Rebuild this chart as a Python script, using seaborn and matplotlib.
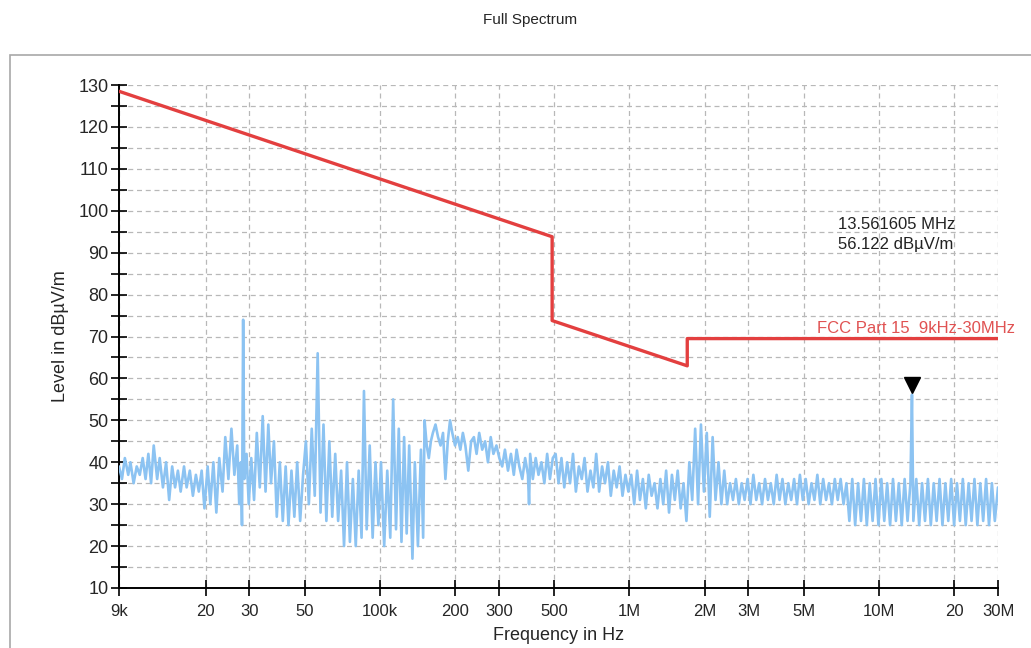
import matplotlib
matplotlib.use("Agg")
import matplotlib.pyplot as plt
import matplotlib.patches as mpatches
from matplotlib.ticker import FixedLocator, NullFormatter, MultipleLocator
import numpy as np
import pandas as pd
import seaborn as sns

# ---------------- data ----------------
# measured spectrum (frequency in kHz, level in dBuV/m), read from the picture
freq_khz = [
    9.0, 9.25, 9.5, 9.8, 10.0, 10.3, 10.6, 10.9, 11.2, 11.5, 11.8, 12.1, 12.4, 12.8, 13.1, 13.5,
    13.9, 14.3, 14.7, 15.1, 15.5, 15.9, 16.4, 16.8, 17.3, 17.8, 18.3, 18.8, 19.3, 19.8,
    20.4, 20.9, 21.5, 22.1, 22.7, 23.4, 24.0, 24.7, 25.4, 26.1, 26.8, 27.3, 27.7, 28.0, 28.3,
    28.6, 29.2, 29.8,
    30.5, 31.3, 32.1, 33.0, 33.9, 34.8, 35.7, 36.6, 37.6, 38.6, 39.7, 40.8, 41.9, 43.0, 44.2,
    45.4, 46.6, 47.9, 49.2,
    50.5, 51.9, 53.3, 54.8, 56.3, 57.8, 59.4, 61.0, 62.7, 64.4, 66.2, 68.0, 69.9, 71.8, 73.8,
    75.8, 77.9, 80.0, 82.2, 84.4, 86.3, 88.5, 91.0, 93.5, 96.0, 98.6,
    101, 104, 107, 110, 113, 116, 119, 122, 125, 128, 131, 135, 138, 142, 146, 149,
    151, 154, 157, 160, 163, 167, 171, 175, 179, 183, 187, 191, 195, 200, 205, 210, 215, 220,
    226, 232, 238, 244, 250, 257, 264, 271, 278, 285, 293, 301, 309, 317, 326, 335, 344, 353,
    362, 372, 382, 392, 396, 400, 410, 421, 432, 444, 456, 468, 480, 493,
    506, 520, 534, 548, 563, 578, 594, 610, 627, 644, 661, 679, 698, 717, 736, 756, 777, 798,
    820, 842, 865, 889, 913, 938, 964, 990,
    1017, 1045, 1073, 1102, 1132, 1163, 1195, 1227, 1261, 1295, 1330, 1366, 1403, 1441, 1480,
    1520, 1561, 1604, 1647, 1692, 1738, 1785, 1834, 1884, 1935, 1988,
    2042, 2098, 2155, 2213, 2274, 2336, 2399, 2464, 2531, 2600, 2671, 2744, 2818, 2895, 2974,
    3055, 3138, 3223, 3311, 3401, 3494, 3589, 3686, 3787, 3890, 3996, 4104, 4216, 4331, 4449,
    4570, 4694, 4822, 4953,
    5088, 5226, 5368, 5514, 5664, 5818, 5977, 6139, 6306, 6478, 6654, 6835, 7021, 7212, 7408,
    7610, 7817, 8029, 8248, 8472, 8703, 8939, 9183, 9432, 9689, 9953,
    10224, 10502, 10788, 11082, 11383, 11693, 12011, 12338, 12674, 13019, 13373, 13561.605,
    13737, 14111, 14495, 14889, 15294, 15710, 16138, 16577, 17028, 17492, 17968, 18457, 18959,
    19475, 20005, 20549, 21108, 21683, 22273, 22879, 23502, 24141, 24798, 25473, 26166, 26878,
    27610, 28361, 29133, 30000,
]
level_dbuv = [
    39, 36, 41, 37, 40, 35, 39, 37, 41, 36, 42, 35, 44, 36, 41, 34,
    40, 31, 39, 34, 38, 33, 39, 34, 38, 32, 37, 33, 38, 29,
    39, 30, 40, 28, 41, 33, 46, 36, 48, 37, 44, 30, 40, 25, 74,
    36, 42, 30,
    41, 31, 47, 34, 51, 33, 49, 35, 45, 27, 40, 26, 39, 25, 38,
    27, 40, 26, 37,
    45, 30, 48, 32, 66, 28, 49, 26, 45, 27, 42, 26, 38, 20, 40,
    21, 36, 20, 38, 22, 57, 24, 44, 22, 40, 25,
    40, 20, 38, 22, 55, 24, 48, 21, 46, 23, 44, 17, 40, 20, 43, 22,
    50, 44, 41, 45, 47, 49, 46, 44, 47, 36, 45, 50, 47, 44, 46, 43, 47, 44,
    38, 45, 46, 42, 47, 43, 45, 40, 46, 42, 44, 41, 39, 43, 38, 42, 37, 43,
    39, 36, 41, 37, 30, 42, 36, 41, 37, 40, 35, 42, 36, 41,
    42, 35, 41, 34, 40, 35, 42, 33, 39, 36, 41, 33, 38, 34, 42, 33, 39, 35,
    40, 32, 38, 34, 39, 32, 37, 33,
    37, 30, 38, 31, 36, 29, 37, 32, 35, 29, 36, 30, 38, 28, 37,
    31, 38, 29, 35, 26, 40, 31, 48, 30, 49, 33,
    47, 27, 46, 31, 40, 30, 38, 30, 35, 31, 36, 30, 35, 31, 36,
    30, 37, 31, 35, 30, 36, 31, 35, 30, 37, 31, 36, 30, 35, 31,
    36, 30, 37, 31,
    36, 30, 35, 31, 37, 30, 36, 31, 35, 30, 36, 31, 36, 30, 35,
    26, 36, 25, 35, 26, 36, 25, 35, 26, 36, 25,
    36, 26, 35, 25, 36, 26, 35, 25, 36, 26, 35, 56.122,
    26, 36, 25, 35, 26, 36, 25, 35, 26, 36, 25, 35, 26,
    36, 25, 35, 26, 36, 25, 35, 26, 36, 25, 35, 26, 36,
    25, 35, 26, 34,
]

# FCC Part 15 limit line vertices
limit_freq_khz = [9, 490, 490, 1705, 1705, 30000]
limit_dbuv = [128.5, 93.8, 73.8, 63.0, 69.5, 69.5]

# marker
marker_freq_mhz = 13.561605
marker_level = 56.122

x_ticks_hz = [9e3, 20e3, 30e3, 50e3, 100e3, 200e3, 300e3, 500e3, 1e6, 2e6, 3e6, 5e6, 10e6, 20e6, 30e6]
x_tick_labels = ["9k", "20", "30", "50", "100k", "200", "300", "500", "1M", "2M", "3M", "5M", "10M", "20", "30M"]

# ---------------- plot ----------------
sns.set_theme(style="white")
plt.rcParams["font.family"] = ["Liberation Sans", "DejaVu Sans"]

fig = plt.figure(figsize=(10.31, 6.48), dpi=100)
ax = fig.add_axes([119 / 1031, 1 - 588 / 648, 879 / 1031, (588 - 85) / 648])

spec = pd.DataFrame({"f": np.array(freq_khz) * 1e3, "lvl": level_dbuv})
lim = pd.DataFrame({"f": np.array(limit_freq_khz) * 1e3, "lvl": limit_dbuv})

sns.lineplot(data=spec, x="f", y="lvl", ax=ax, estimator=None, sort=False,
             color="#8cc3f2", lw=1.9, legend=False, zorder=3)
sns.lineplot(data=lim, x="f", y="lvl", ax=ax, estimator=None, sort=False,
             color="#e33f3f", lw=2.4, legend=False, zorder=4)

ax.set_xscale("log")
ax.set_xlim(9e3, 30e6)
ax.set_ylim(10, 130)

ax.xaxis.set_major_locator(FixedLocator(x_ticks_hz))
ax.set_xticklabels(x_tick_labels)
ax.xaxis.set_minor_formatter(NullFormatter())
ax.xaxis.set_minor_locator(FixedLocator([]))
ax.yaxis.set_major_locator(MultipleLocator(10))
ax.yaxis.set_minor_locator(MultipleLocator(5))

ax.tick_params(axis="both", which="both", direction="inout", length=11, width=1.2,
               color="black", labelsize=13, pad=2, left=True, bottom=True)
ax.tick_params(axis="x", labelsize=12, pad=6)

for s in ["top", "right"]:
    ax.spines[s].set_visible(False)
for s in ["left", "bottom"]:
    ax.spines[s].set_color("black")
    ax.spines[s].set_linewidth(1.4)

ax.grid(True, which="major", axis="x", color="#b8b8b8", linestyle=(0, (4, 3)), lw=0.9)
ax.grid(True, which="both", axis="y", color="#b8b8b8", linestyle=(0, (4, 3)), lw=0.9)
ax.set_axisbelow(True)

ax.set_xlabel("Frequency in Hz", fontsize=13, labelpad=6)
ax.set_ylabel("Level in dBµV/m", fontsize=13, labelpad=7)

# marker + readout
ax.plot([marker_freq_mhz * 1e6], [marker_level + 2.2], marker="v", color="black",
        markersize=11, zorder=6, clip_on=False)
ax.text(6.86e6, 96.8, f"{marker_freq_mhz:.6f} MHz", fontsize=12, color="#222222", va="center")
ax.text(6.86e6, 92.0, f"{marker_level:.3f} dBµV/m", fontsize=12, color="#222222", va="center")

ax.text(35.0e6, 70.2, "FCC Part 15  9kHz-30MHz", fontsize=12, color="#e05252",
        ha="right", va="bottom", clip_on=False)

fig.text(530 / 1031, 1 - 20 / 648, "Full Spectrum", ha="center", va="center", fontsize=11)

fig.patches.append(mpatches.Rectangle((10 / 1031, -0.01), 1.05, 1 - 55 / 648 + 0.01,
                                      transform=fig.transFigure, fill=False,
                                      edgecolor="#a8a8a8", lw=1.2))

fig.savefig("out.png", dpi=100)
